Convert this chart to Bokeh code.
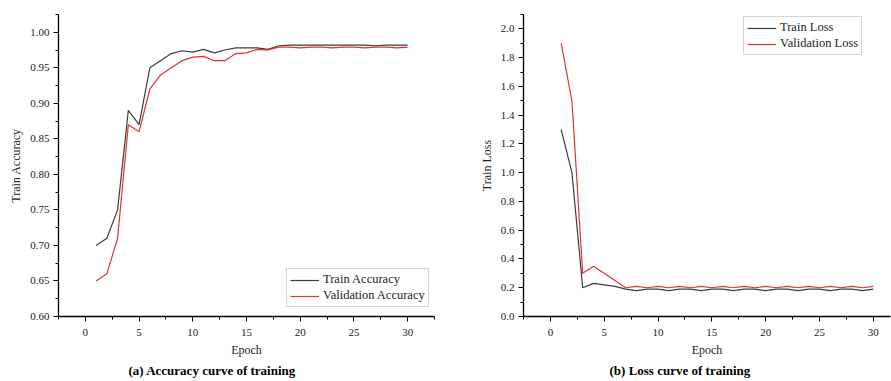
from bokeh.plotting import figure
from bokeh.layouts import row
from bokeh.models import Range1d, Title, Legend, LegendItem, SingleIntervalTicker, NumeralTickFormatter
from bokeh.embed import file_html
from bokeh.resources import INLINE

epochs = list(range(1, 31))
train_acc = [0.70, 0.71, 0.75, 0.89, 0.87, 0.95, 0.96, 0.970, 0.974, 0.972,
             0.976, 0.971, 0.975, 0.978, 0.978, 0.978, 0.976, 0.981, 0.982, 0.982,
             0.982, 0.982, 0.982, 0.982, 0.982, 0.982, 0.981, 0.982, 0.982, 0.982]
val_acc = [0.65, 0.66, 0.71, 0.87, 0.86, 0.92, 0.94, 0.950, 0.960, 0.965,
           0.966, 0.960, 0.960, 0.970, 0.971, 0.976, 0.975, 0.979, 0.979, 0.978,
           0.979, 0.979, 0.978, 0.979, 0.979, 0.978, 0.979, 0.979, 0.978, 0.979]
train_loss = [1.30, 1.00, 0.20, 0.23, 0.22, 0.21, 0.19, 0.18, 0.19, 0.19,
              0.18, 0.19, 0.19, 0.18, 0.19, 0.19, 0.18, 0.19, 0.19, 0.18,
              0.19, 0.19, 0.18, 0.19, 0.19, 0.18, 0.19, 0.19, 0.18, 0.19]
val_loss = [1.90, 1.50, 0.30, 0.35, 0.30, 0.25, 0.20, 0.21, 0.20, 0.21,
            0.20, 0.21, 0.20, 0.21, 0.20, 0.21, 0.20, 0.21, 0.20, 0.21,
            0.20, 0.21, 0.20, 0.21, 0.20, 0.21, 0.20, 0.21, 0.20, 0.21]

FONT = "Liberation Serif"
DARK = "#3c3c3c"
RED = "#e0303a"


def style(p, xlabel, ylabel):
    p.xgrid.visible = False
    p.ygrid.visible = False
    p.outline_line_color = None
    for ax in (p.xaxis[0], p.yaxis[0]):
        ax.axis_line_color = "black"
        ax.axis_line_width = 1.3
        ax.major_tick_line_color = "black"
        ax.minor_tick_line_color = "black"
        ax.major_tick_out = 5
        ax.major_tick_in = 0
        ax.minor_tick_out = 3
        ax.minor_tick_in = 0
        ax.major_label_text_font = FONT
        ax.major_label_text_font_size = "11px"
        ax.major_label_text_color = "#222222"
        ax.axis_label_text_font = FONT
        ax.axis_label_text_font_size = "12px"
        ax.axis_label_text_font_style = "normal"
        ax.axis_label_text_color = "#222222"
    p.xaxis[0].axis_label = xlabel
    p.yaxis[0].axis_label = ylabel
    p.xaxis[0].axis_label_standoff = 4
    p.yaxis[0].axis_label_standoff = 4
    p.xaxis[0].major_label_standoff = 7
    p.yaxis[0].major_label_standoff = 4
    p.xaxis[0].ticker = SingleIntervalTicker(interval=5, num_minor_ticks=2)


def legend(p, items, loc):
    lg = Legend(items=items, location=loc)
    lg.label_text_font = FONT
    lg.label_text_font_size = "12.5px"
    lg.label_text_color = "#222222"
    lg.glyph_width = 29
    lg.glyph_height = 14
    lg.label_height = 14
    lg.label_standoff = 4
    lg.spacing = 1
    lg.padding = 3
    lg.margin = 0
    lg.border_line_color = "#aaaaaa"
    lg.border_line_width = 1
    lg.background_fill_alpha = 1
    p.add_layout(lg, "center")


# (a) accuracy
p1 = figure(width=450, height=378, output_backend="svg", toolbar_location=None,
            x_range=Range1d(-2.5, 32.5), y_range=Range1d(0.6, 1.025),
            min_border_left=58, min_border_right=16, min_border_top=14, min_border_bottom=61)
style(p1, "Epoch", "Train Accuracy")
p1.yaxis[0].ticker = SingleIntervalTicker(interval=0.05, num_minor_ticks=2)
p1.yaxis[0].formatter = NumeralTickFormatter(format="0.00")
r1 = p1.line(epochs, train_acc, line_color=DARK, line_width=1.2)
r2 = p1.line(epochs, val_acc, line_color=RED, line_width=1.2)
legend(p1, [LegendItem(label="Train Accuracy", renderers=[r1]),
            LegendItem(label="Validation Accuracy", renderers=[r2])], (228, 9))
t1 = Title(text="(a) Accuracy curve of training", align="left", offset=70,
           text_font=FONT, text_font_size="13px", text_font_style="bold",
           text_color="black", standoff=2)
p1.add_layout(t1, "below")

# (b) loss
p2 = figure(width=441, height=378, output_backend="svg", toolbar_location=None,
            x_range=Range1d(-2.5, 31.6), y_range=Range1d(0.0, 2.1),
            min_border_left=73, min_border_right=1, min_border_top=11, min_border_bottom=62)
style(p2, "Epoch", "Train Loss")
p2.yaxis[0].ticker = SingleIntervalTicker(interval=0.2, num_minor_ticks=2)
p2.yaxis[0].formatter = NumeralTickFormatter(format="0.0")
r3 = p2.line(epochs, train_loss, line_color=DARK, line_width=1.2)
r4 = p2.line(epochs, val_loss, line_color=RED, line_width=1.2)
legend(p2, [LegendItem(label="Train Loss", renderers=[r3]),
            LegendItem(label="Validation Loss", renderers=[r4])], (220, 261))
t2 = Title(text="(b) Loss curve of training", align="left", offset=86,
           text_font=FONT, text_font_size="13px", text_font_style="bold",
           text_color="black", standoff=2)
p2.add_layout(t2, "below")

layout = row(p1, p2, spacing=0)
open("out.html", "w").write(file_html(layout, INLINE))
